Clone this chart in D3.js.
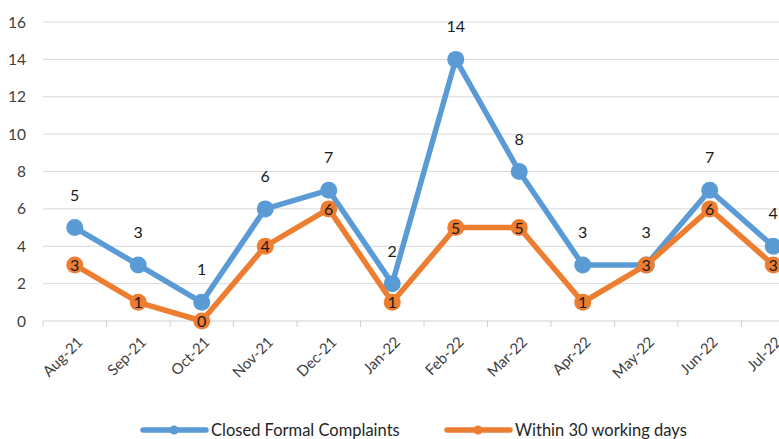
<!DOCTYPE html>
<html>
<head>
<meta charset="utf-8">
<script src="https://cdn.jsdelivr.net/npm/d3@7"></script>
<style>
  body { margin: 0; background: #fff; }
  svg { display: block; font-family: Lato, "Open Sans", sans-serif; }
</style>
</head>
<body>
<svg id="chart" width="779" height="439"></svg>
<script>
// Chart data
const months = ["Aug-21", "Sep-21", "Oct-21", "Nov-21", "Dec-21", "Jan-22",
  "Feb-22", "Mar-22", "Apr-22", "May-22", "Jun-22", "Jul-22"];
const closed = [5, 3, 1, 6, 7, 2, 14, 8, 3, 3, 7, 4];
const within30 = [3, 1, 0, 4, 6, 1, 5, 5, 1, 3, 6, 3];
const yTicks = [0, 2, 4, 6, 8, 10, 12, 14, 16];
const seriesNames = ["Closed Formal Complaints", "Within 30 working days"];

const blue = "#5b9bd5";
const orange = "#ed7d31";

const svg = d3.select("#chart");
// plot runs past the right edge, like the cropped original
const plotLeft = 43, plotRight = 805, plotTop = 22, plotBottom = 321;

const x = d3.scaleBand().domain(months).range([plotLeft, plotRight]);
const y = d3.scaleLinear().domain([0, 16]).range([plotBottom, plotTop]);
const cx = d => x(d) + x.bandwidth() / 2;

// gridlines
svg.append("g")
  .selectAll("line")
  .data(yTicks)
  .join("line")
  .attr("x1", plotLeft).attr("x2", plotRight)
  .attr("y1", d => y(d)).attr("y2", d => y(d))
  .attr("stroke", d => d === 0 ? "#d0d0d0" : "#d9d9d9")
  .attr("stroke-width", 1);

// y labels
svg.append("g")
  .selectAll("text")
  .data(yTicks)
  .join("text")
  .attr("x", 26)
  .attr("y", d => y(d) + 5.5)
  .attr("text-anchor", "end")
  .attr("font-size", 15.5)
  .attr("fill", "#404040")
  .text(d => d);

// x ticks at band edges
svg.append("g")
  .selectAll("line")
  .data(months)
  .join("line")
  .attr("x1", d => x(d)).attr("x2", d => x(d))
  .attr("y1", plotBottom).attr("y2", plotBottom + 6)
  .attr("stroke", "#d0d0d0");

// x labels rotated
svg.append("g")
  .selectAll("text")
  .data(months)
  .join("text")
  .attr("transform", d => `translate(${cx(d) + 9},${plotBottom + 22}) rotate(-45)`)
  .attr("text-anchor", "end")
  .attr("font-size", 15)
  .attr("fill", "#404040")
  .text(d => d);

const line = d3.line().x((d, i) => cx(months[i])).y(d => y(d));

function drawSeries(vals, color) {
  svg.append("path")
    .datum(vals)
    .attr("d", line)
    .attr("fill", "none")
    .attr("stroke", color)
    .attr("stroke-width", 5.5)
    .attr("stroke-linejoin", "round");
  svg.append("g")
    .selectAll("circle")
    .data(vals)
    .join("circle")
    .attr("cx", (d, i) => cx(months[i]))
    .attr("cy", d => y(d))
    .attr("r", 8.5)
    .attr("fill", color);
}

drawSeries(closed, blue);
drawSeries(within30, orange);

// blue labels above
svg.append("g")
  .selectAll("text")
  .data(closed)
  .join("text")
  .attr("x", (d, i) => cx(months[i]))
  .attr("y", d => y(d) - 27)
  .attr("text-anchor", "middle")
  .attr("font-size", 16)
  .attr("fill", "#1a1a1a")
  .text(d => d);

// orange labels on markers
svg.append("g")
  .selectAll("text")
  .data(within30)
  .join("text")
  .attr("x", (d, i) => cx(months[i]))
  .attr("y", d => y(d) + 6)
  .attr("text-anchor", "middle")
  .attr("font-size", 16)
  .attr("fill", "#1a1a1a")
  .text(d => d);

// legend
const legend = [
  { name: seriesNames[0], color: blue, x0: 143 },
  { name: seriesNames[1], color: orange, x0: 447 }
];
const lg = svg.append("g");
legend.forEach(l => {
  lg.append("line")
    .attr("x1", l.x0).attr("x2", l.x0 + 63)
    .attr("y1", 430).attr("y2", 430)
    .attr("stroke", l.color).attr("stroke-width", 5.5)
    .attr("stroke-linecap", "round");
  lg.append("circle")
    .attr("cx", l.x0 + 31).attr("cy", 430).attr("r", 4.5)
    .attr("fill", l.color);
  lg.append("text")
    .attr("x", l.x0 + 68).attr("y", 436)
    .attr("font-size", 16.5)
    .attr("fill", "#262626")
    .text(l.name);
});
</script>
</body>
</html>
